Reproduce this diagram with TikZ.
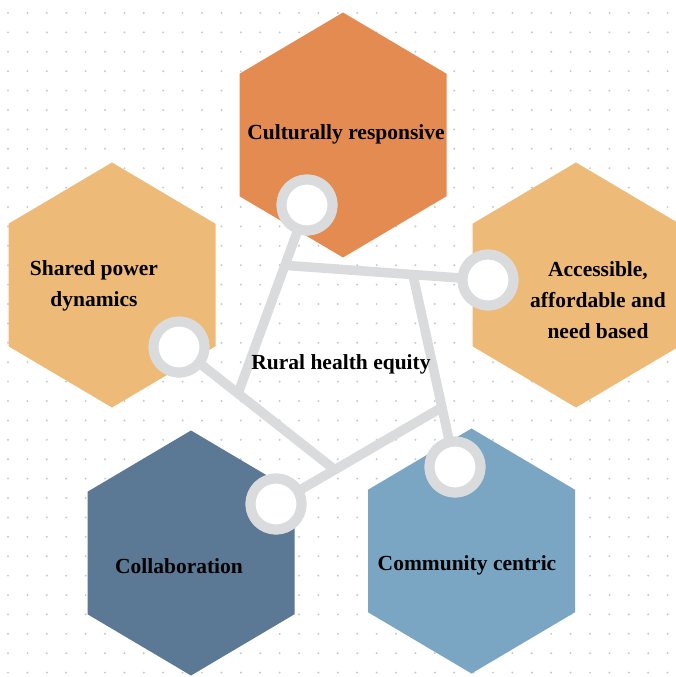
\documentclass[tikz,border=0pt]{standalone}
\usepackage{fontspec}
\setmainfont{Liberation Serif}
\usetikzlibrary{calc}

\definecolor{hexorange}{RGB}{227,139,81}
\definecolor{hexsand}{RGB}{237,186,120}
\definecolor{hexnavy}{RGB}{91,120,149}
\definecolor{hexsky}{RGB}{122,166,195}
\definecolor{ringgray}{RGB}{218,219,221}
\definecolor{dotgray}{RGB}{200,200,208}

% pointy-top hexagon: centre x, centre y, colour
\newcommand{\hexcell}[3]{%
  \fill[#3] (#1,#2) ++(0,-122.5) -- ++(103.5,61.25) -- ++(0,122.5)
    -- ++(-103.5,61.25) -- ++(-103.5,-61.25) -- ++(0,-122.5) -- cycle;}

\begin{document}
\begin{tikzpicture}[x=1pt, y=-1pt,
    ring/.style={circle, draw=ringgray, line width=10pt, fill=white, minimum size=51pt, inner sep=0pt},
    bar/.style={draw=ringgray, line width=9.5pt},
    celltext/.style={font=\bfseries\fontsize{21.5}{31}\selectfont, text=black, align=center}]
			% Fix the canvas
			\useasboundingbox (0,0) rectangle (675,677);
			\fill[white] (0,0) rectangle (675,677);
			
			% Dotted background
			\foreach \i in {0,...,34}
				\foreach \j in {0,...,34}
					\fill[dotgray] (8+19.4*\i, 13+19.4*\j) circle (1.1pt);
			
			% Draw the five hexagons
			\hexcell{343}{135}{hexorange}
			\hexcell{112}{285}{hexsand}
			\hexcell{576}{285}{hexsand}
			\hexcell{191}{553}{hexnavy}
			\hexcell{471.5}{551}{hexsky}
			
			% Rings (placed first, drawn again on top of the bars)
			\node[ring] (ringT) at (307,205) {};
			\node[ring] (ringR) at (488,280) {};
			\node[ring] (ringL) at (179,347) {};
			\node[ring] (ringBL) at (276,504) {};
			\node[ring] (ringBR) at (455,467) {};
			
			% Junctions of the frame
			\coordinate (foot) at (238,393.5);
			\coordinate (jB) at ($(ringT)!0.32!(foot)$);
			\coordinate (jC) at ($(jB)!0.63!(ringR)$);
			\coordinate (jE) at ($(jC)!0.69!(ringBR)$);
			\coordinate (jD) at (intersection of ringL.center--foot and ringBL.center--jE);
			
			% Draw the bars
			\draw[bar] (ringT.center) -- (foot);
			\draw[bar] (jB) -- (ringR.center);
			\draw[bar] (jC) -- (ringBR.center);
			\draw[bar] (ringL.center) -- (jD);
			\draw[bar] (ringBL.center) -- (jE);
			
			% Rings on top
			\foreach \r in {ringT,ringR,ringL,ringBL,ringBR}
				\node[ring] at (\r) {};
			
			% Labels
			\node[celltext] (cult) at (346,134) {Culturally responsive};
			\node[celltext] (share) at (94,286) {Shared power\\dynamics};
			\node[celltext] (access) at (598,300) {Accessible,\\affordable and\\need based};
			\node[celltext] (collab) at (179,566) {Collaboration};
			\node[celltext] (commu) at (467,565) {Community centric};
			\node[celltext] (core) at (341,364) {Rural health equity};
		\end{tikzpicture}
\end{document}
